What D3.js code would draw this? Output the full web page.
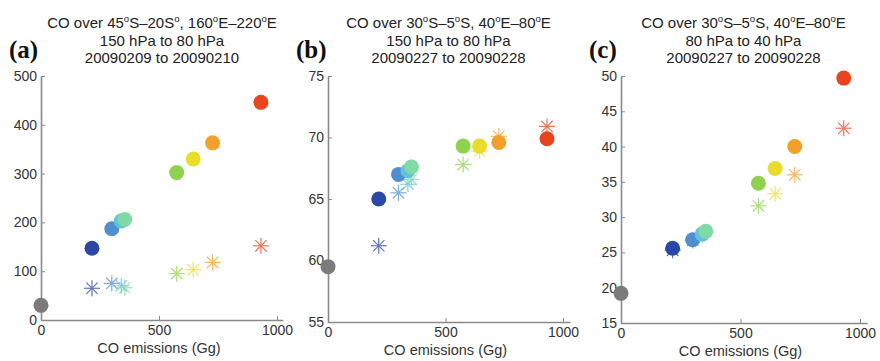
<!DOCTYPE html>
<html>
<head>
<meta charset="utf-8">
<script src="https://cdn.jsdelivr.net/npm/d3@7"></script>
<style>
  body { margin: 0; background: #fff; }
  svg { display: block; }
</style>
</head>
<body>
<div id="chart"></div>
<script>
// CO emissions (Gg) shared by all panels, one colour per source
const emissions = [0, 216, 300, 340, 355, 575, 645, 727, 932];
const colors = ['#7b7b7b', '#2b48a6', '#4f8fcf', '#5fc3df', '#7fdaa6', '#8fd24f', '#e9dd2a', '#f3a02b', '#e8451f'];

// panel values: circles and stars (null = no star)
const circlesA = [30, 147, 187, 203, 206, 302, 330, 363, 446];
const starsA = [null, 65, 75, 70, 66, 95, 103, 118, 152];
const circlesB = [59.5, 65.0, 67.0, 67.3, 67.6, 69.3, 69.3, 69.6, 69.9];
const starsB = [null, 61.2, 65.5, 66.2, 66.6, 67.8, 68.9, 70.1, 70.9];
const circlesC = [19.2, 25.6, 26.8, 27.6, 28.0, 34.8, 36.9, 40.0, 49.7];
const starsC = [null, 25.3, 26.7, 27.5, 27.9, 31.6, 33.3, 36.0, 42.6];

const yTicksA = [0, 100, 200, 300, 400, 500];
const yTicksB = [55, 60, 65, 70, 75];
const yTicksC = [15, 20, 25, 30, 35, 40, 45, 50];
const xTicks = [0, 500, 1000];

const panels = [
  { tag: '(a)', title: ['CO over 45°S\u201320S°, 160°E\u2013220°E', '150 hPa to 80 hPa', '20090209 to 20090210'],
    circles: circlesA, stars: starsA, yDomain: [0, 500], yTicks: yTicksA, left: 41, bottom: 320, xEnd: 1025 },
  { tag: '(b)', title: ['CO over 30°S\u20135°S, 40°E\u201380°E', '150 hPa to 80 hPa', '20090227 to 20090228'],
    circles: circlesB, stars: starsB, yDomain: [55, 75], yTicks: yTicksB, left: 328, bottom: 322, xEnd: 1030 },
  { tag: '(c)', title: ['CO over 30°S\u20135°S, 40°E\u201380°E', '80 hPa to 40 hPa', '20090227 to 20090228'],
    circles: circlesC, stars: starsC, yDomain: [15, 50], yTicks: yTicksC, left: 621, bottom: 323, xEnd: 1030 }
];

const width = 880, height = 361;
const plotTop = 76, pxPer1000 = [236, 235, 239];

const svg = d3.select('#chart').append('svg')
  .attr('width', width)
  .attr('height', height)
  .style('font-family', 'Liberation Sans, Arial, sans-serif');

panels.forEach((p, i) => {
  const xScale = d3.scaleLinear()
    .domain([0, p.xEnd])
    .range([p.left, p.left + pxPer1000[i] * p.xEnd / 1000]);
  const yScale = d3.scaleLinear()
    .domain(p.yDomain)
    .range([p.bottom, plotTop]);

  const g = svg.append('g').attr('class', 'panel');

  // titles, superscript degree signs
  const cx = (xScale(0) + xScale(1000)) / 2 + 3;
  p.title.forEach((line, k) => {
    const t = g.append('text')
      .attr('x', cx)
      .attr('y', 28 + k * 17.5)
      .attr('text-anchor', 'middle')
      .attr('font-size', 15)
      .attr('fill', '#222');
    line.split('°').forEach((part, j) => {
      if (j > 0) {
        t.append('tspan').attr('font-size', 9.5).attr('dy', -6).text('o');
        t.append('tspan').attr('dy', 6).text(part);
      } else {
        t.append('tspan').text(part);
      }
    });
  });

  g.append('text')
    .attr('x', p.left - 32)
    .attr('y', 58)
    .attr('font-family', 'Liberation Serif, Times New Roman, serif')
    .attr('font-weight', 'bold')
    .attr('font-size', 25)
    .attr('fill', '#111')
    .text(p.tag);

  const xAxis = d3.axisBottom(xScale)
    .tickValues(xTicks)
    .tickFormat(d3.format('d'))
    .tickSizeInner(-4)
    .tickSizeOuter(0)
    .tickPadding(5);
  const yAxis = d3.axisLeft(yScale)
    .tickValues(p.yTicks)
    .tickFormat(d3.format('d'))
    .tickSizeInner(-4)
    .tickSizeOuter(0)
    .tickPadding(4);

  const gx = g.append('g')
    .attr('transform', `translate(0,${p.bottom})`)
    .call(xAxis);
  const gy = g.append('g')
    .attr('transform', `translate(${p.left},0)`)
    .call(yAxis);

  [gx, gy].forEach(a => {
    a.select('.domain').attr('stroke', '#8a8a8a').attr('stroke-width', 1.6);
    a.selectAll('.tick line').attr('stroke', '#8a8a8a').attr('stroke-width', 1);
    a.selectAll('.tick text')
      .attr('font-size', 14)
      .attr('fill', '#333')
      .attr('font-family', 'Liberation Sans, Arial, sans-serif');
  });

  g.append('text')
    .attr('x', (xScale(0) + xScale(1000)) / 2)
    .attr('y', p.bottom + 33)
    .attr('text-anchor', 'middle')
    .attr('font-size', 14.5)
    .attr('fill', '#333')
    .text('CO emissions (Gg)');

  // stars first, circles on top
  const starData = emissions.map((e, k) => ({ x: e, y: p.stars[k], c: colors[k] }))
    .filter(d => d.y !== null);
  const starR = 8;
  const stars = g.append('g').attr('class', 'stars')
    .selectAll('g')
    .data(starData)
    .enter()
    .append('g')
    .attr('transform', d => `translate(${xScale(d.x)},${yScale(d.y)})`)
    .attr('opacity', 0.75);
  [0, 45, 90, 135].forEach(a => {
    const r = a * Math.PI / 180;
    stars.append('line')
      .attr('x1', -starR * Math.cos(r))
      .attr('y1', -starR * Math.sin(r))
      .attr('x2', starR * Math.cos(r))
      .attr('y2', starR * Math.sin(r))
      .attr('stroke', d => d.c)
      .attr('stroke-width', 1.2);
  });

  const circleData = emissions.map((e, k) => ({ x: e, y: p.circles[k], c: colors[k] }));
  g.append('g').attr('class', 'circles')
    .selectAll('circle')
    .data(circleData)
    .enter()
    .append('circle')
    .attr('cx', d => xScale(d.x))
    .attr('cy', d => yScale(d.y))
    .attr('r', 7.5)
    .attr('fill', d => d.c);
});
</script>
</body>
</html>
